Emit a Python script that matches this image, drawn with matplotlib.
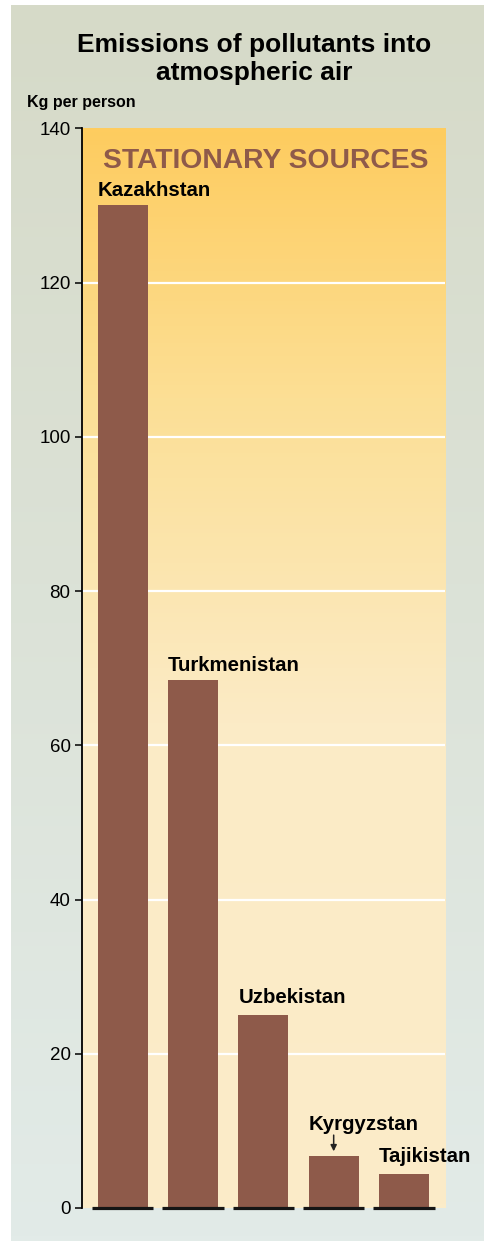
import matplotlib.pyplot as plt
import numpy as np
from matplotlib.colors import LinearSegmentedColormap

plt.rcParams['font.family'] = ['Liberation Sans', 'DejaVu Sans']

# data
countries = ['Kazakhstan', 'Turkmenistan', 'Uzbekistan', 'Kyrgyzstan', 'Tajikistan']
values = [130, 68.5, 25, 6.7, 4.4]
yticks = [0, 20, 40, 60, 80, 100, 120, 140]

bar_color = '#8e5a4a'
W, H = 484, 1241

fig = plt.figure(figsize=(W / 100, H / 100), dpi=100, facecolor='white')

# outer panel with soft vertical gradient
bg = fig.add_axes([11 / W, 0, 1 - 11 / W, 1 - 5 / H], zorder=-5)
bg_cmap = LinearSegmentedColormap.from_list('bg', ['#e2ebe8', '#d6dac8'])
bg.imshow(np.linspace(0, 1, 256).reshape(-1, 1)[::-1], cmap=bg_cmap, aspect='auto',
          extent=[0, 1, 0, 1])
bg.axis('off')

ax = fig.add_axes([81.7 / W, 1 - 1208 / H, (445 - 81.7) / W, (1208 - 128.3) / H])
ax.set_facecolor('none')
x = np.arange(len(countries))
ax.set_xlim(-0.583, len(countries) - 1 + 0.583)
ax.set_ylim(0, 140)

# plot area gradient: orange at top fading to cream
pa_cmap = LinearSegmentedColormap.from_list('pa', [(0, '#fbecc9'), (0.45, '#fbebc6'),
                                                   (0.75, '#fcdf95'), (1, '#fecc5f')])
ax.imshow(np.linspace(0, 1, 256).reshape(-1, 1)[::-1], cmap=pa_cmap, aspect='auto',
          extent=[-0.583, len(countries) - 1 + 0.583, 0, 140], zorder=0)

for t in yticks[1:-1]:
    ax.axhline(t, color='white', lw=1.6, zorder=1)

ax.bar(x, values, width=0.712, color=bar_color, zorder=3)
ax.hlines([0] * len(x), x - 0.437, x + 0.437, color='#151515', lw=2.3, zorder=4,
          clip_on=False)

for s in ['top', 'right', 'bottom']:
    ax.spines[s].set_visible(False)
ax.spines['left'].set_linewidth(1.3)
ax.set_xticks([])
ax.set_yticks(yticks)
ax.tick_params(axis='y', length=5, width=1.1, pad=3, labelsize=13.5)

# country labels
for i, (c, v) in enumerate(zip(countries, values)):
    if c == 'Kyrgyzstan':
        continue
    off = 9 if v > 50 else 12
    ax.annotate(c, (x[i] - 0.356, v), xytext=(0, off), textcoords='offset pixels',
                ha='left', va='baseline', fontsize=14.7, fontweight='bold', zorder=5,
                annotation_clip=False)

k = countries.index('Kyrgyzstan')
ax.annotate('Kyrgyzstan', (x[k] - 0.356, values[k]), xytext=(0, 26), textcoords='offset pixels',
            ha='left', va='baseline', fontsize=14.7, fontweight='bold', zorder=5)
ax.annotate('', (x[k], values[k] + 0.65), xytext=(x[k], values[k] + 2.75),
            arrowprops=dict(arrowstyle='-|>', color='#222222', lw=1.1, mutation_scale=9,
                            shrinkA=0, shrinkB=0),
            zorder=5)

fig.text(265.5 / W, 1 - 168 / H, 'STATIONARY SOURCES', ha='center', va='baseline',
         fontsize=20.3, fontweight='bold', color='#8e5a4a', zorder=5)

fig.text(254 / W, 1 - 52 / H, 'Emissions of pollutants into', ha='center', va='baseline',
         fontsize=19, fontweight='bold')
fig.text(254 / W, 1 - 80 / H, 'atmospheric air', ha='center', va='baseline',
         fontsize=19, fontweight='bold')
fig.text(27 / W, 1 - 107 / H, 'Kg per person', ha='left', va='baseline',
         fontsize=11.5, fontweight='bold')

fig.savefig('out.png', dpi=100, facecolor='white')
